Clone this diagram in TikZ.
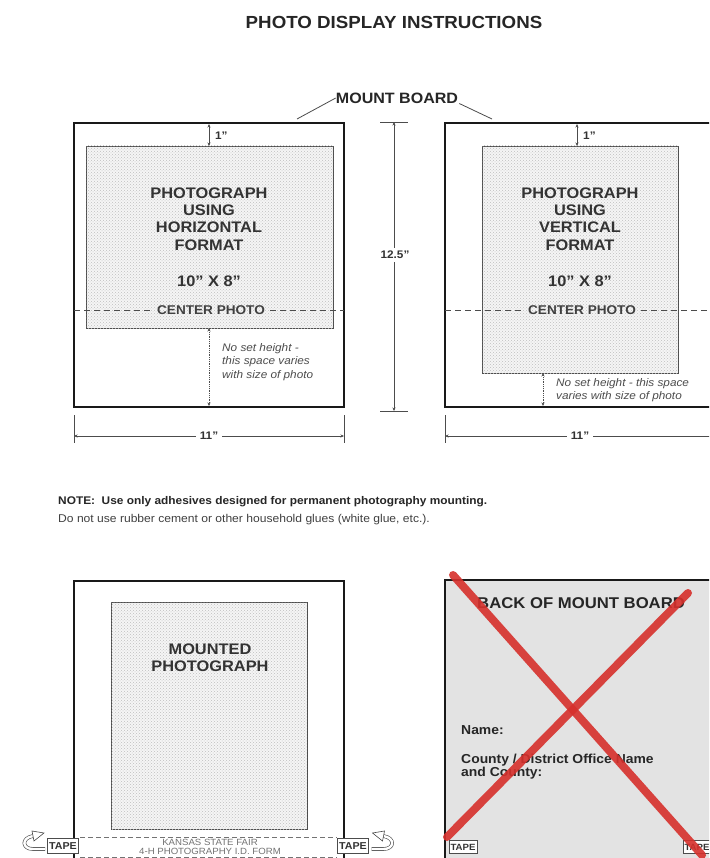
\documentclass[tikz,border=0pt]{standalone}
\usepackage{fontspec}
\setmainfont{Liberation Sans}[FakeStretch=1.07]
\usetikzlibrary{arrows.meta,patterns}

\definecolor{crossred}{RGB}{214,48,44}

\begin{document}
\begin{tikzpicture}[x=1pt,y=-1pt,
  board/.style={line width=2pt,draw=black!90},
  photo/.style={draw=black!70,line width=.8pt,fill=gray!8,postaction={pattern=crosshatch dots,pattern color=gray!50}},
  dim/.style={draw=black!70,line width=.8pt},
  dimarrow/.style={dim,{Stealth[length=3.5pt,width=3pt]}-{Stealth[length=3.5pt,width=3pt]}},
  lbl/.style={font=\bfseries\fontsize{15.3}{17.3}\selectfont,text=black!80,align=center,inner sep=0pt},
  small/.style={font=\bfseries\fontsize{11}{13}\selectfont,text=black!80,inner sep=1pt},
  center/.style={font=\bfseries\fontsize{12.7}{14}\selectfont,text=black!75,inner sep=5pt},
  note/.style={font=\itshape\fontsize{11}{13.5}\selectfont,text=black!70,align=left,inner sep=0pt},
  tapebox/.style={draw=black!70,line width=.7pt,fill=white,font=\bfseries\fontsize{10}{10}\selectfont,text=black!80,inner sep=1.5pt,minimum height=15pt},
  redx/.style={draw=crossred,line width=8pt,line cap=round,opacity=.9}]
\clip (0,0) rectangle (709,858);
\fill[white] (0,0) rectangle (709,858);

% heading
\node[font=\bfseries\fontsize{17.5}{20}\selectfont,text=black!85] (title) at (394,22) {PHOTO DISPLAY INSTRUCTIONS};
\node[font=\bfseries\fontsize{15}{17}\selectfont,text=black!85,inner sep=0pt] (mount) at (397,98) {MOUNT BOARD};
\draw[dim] (mount.west) -- (297,119);
\draw[dim] ([xshift=1pt]mount.south east) -- (492,119);

% horizontal format
\draw[board] (74,123) rectangle (344,407);
\draw[photo] (86,146) rectangle (333,328);
\node[lbl] (hztext) at (209,219) {PHOTOGRAPH\\USING\\HORIZONTAL\\FORMAT};
\node[lbl] (hzsize) at (209,281) {10'' X 8''};
\node[center] (hzcenter) at (211,310) {CENTER PHOTO};
\draw[dim,dashed,dash pattern=on 6pt off 4pt] (74,310) -- (hzcenter.west);
\draw[dim,dashed,dash pattern=on 6pt off 4pt] (hzcenter.east) -- (344,310);
\draw[dimarrow] (209,124) -- (209,146);
\node[small,anchor=west] (hzone) at (214,136) {1''};
\draw[dimarrow,densely dotted] (209,328) -- (209,406);
\node[note,anchor=north west] (hznote) at (222,343) {No set height -\\this space varies\\with size of photo};

% board height
\draw[dim] (380,122) -- (408,122);
\draw[dim] (380,411) -- (408,411);
\draw[dimarrow] (394,122) -- (394,411);
\node[small,fill=white,inner sep=3pt] (height) at (395,255) {12.5''};

% vertical format
\draw[board] (445,123) rectangle (715,407);
\draw[photo] (482,146) rectangle (678,373);
\node[lbl] (vttext) at (580,219) {PHOTOGRAPH\\USING\\VERTICAL\\FORMAT};
\node[lbl] (vtsize) at (580,281) {10'' X 8''};
\node[center] (vtcenter) at (582,310) {CENTER PHOTO};
\draw[dim,dashed,dash pattern=on 6pt off 4pt] (445,310) -- (vtcenter.west);
\draw[dim,dashed,dash pattern=on 6pt off 4pt] (vtcenter.east) -- (715,310);
\draw[dimarrow] (577,124) -- (577,146);
\node[small,anchor=west] (vtone) at (582,136) {1''};
\draw[dimarrow,densely dotted] (543,373) -- (543,406);
\node[note,anchor=north west] (vtnote) at (556,378) {No set height - this space\\varies with size of photo};

% widths
\draw[dim] (74,415) -- (74,443);
\draw[dim] (344,415) -- (344,443);
\draw[dimarrow] (74,436) -- (344,436);
\node[small,fill=white,inner sep=4pt] (hzwidth) at (209,436) {11''};
\draw[dim] (445,415) -- (445,443);
\draw[dimarrow] (445,436) -- (715,436);
\node[small,fill=white,inner sep=4pt] (vtwidth) at (580,436) {11''};

% note
\node[anchor=west,font=\bfseries\fontsize{11.1}{14}\selectfont,text=black!85,inner sep=0pt] (note1) at (58,502) {NOTE:\ \ Use only adhesives designed for permanent photography mounting.};
\node[anchor=west,font=\fontsize{11.3}{14}\selectfont,text=black!75,inner sep=0pt] (note2) at (58,520) {Do not use rubber cement or other household glues (white glue, etc.).};

% mounted photograph
\draw[board] (74,870) -- (74,581) -- (344,581) -- (344,870);
\draw[photo] (111,602) rectangle (307,829);
\node[lbl] (mounted) at (210,658) {MOUNTED\\PHOTOGRAPH};
\draw[dim,draw=black!55,dashed,dash pattern=on 5pt off 3pt] (80,837) -- (337,837);
\draw[dim,draw=black!55,dashed,dash pattern=on 5pt off 3pt] (80,857) -- (337,857);
\node[font=\fontsize{9}{9}\selectfont,text=black!55,align=center,inner sep=0pt] (idform) at (210,847) {KANSAS STATE FAIR\\4-H PHOTOGRAPHY I.D. FORM};
\node[tapebox] (tapeleft) at (63,846) {TAPE};
\node[tapebox] (taperight) at (353,846) {TAPE};
\foreach \sx/\dx in {1/0,-1/416.5}{
  \begin{scope}[xshift=\dx pt,xscale=\sx]
    \draw[draw=black!70,line width=.6pt,double=white,double distance=2.4pt] (45,849) -- (33,849) .. controls (22,849) and (21,838) .. (33,836);
    \draw[draw=black!70,line width=.6pt,fill=white] (32,831) -- (44,833) -- (34,841) -- cycle;
  \end{scope}
}

% back of mount board
\fill[gray!22] (445,580) rectangle (720,870);
\draw[board] (445,870) -- (445,580) -- (720,580);
\node[anchor=west,font=\bfseries\fontsize{15.6}{17}\selectfont,text=black!85,inner sep=0pt] (back) at (477,603) {BACK OF MOUNT BOARD};
\node[anchor=west,font=\bfseries\fontsize{13}{13}\selectfont,text=black!85,inner sep=0pt] (name) at (461,730) {Name:};
\node[anchor=north west,font=\bfseries\fontsize{13}{12.5}\selectfont,text=black!85,align=left,inner sep=0pt] (county) at (461,754) {County / District Office Name\\and County:};
\node[tapebox,minimum height=13pt,font=\bfseries\fontsize{9}{9}\selectfont] (tapeback1) at (463,847) {TAPE};
\node[tapebox,minimum height=13pt,font=\bfseries\fontsize{9}{9}\selectfont] (tapeback2) at (697,847) {TAPE};
\draw[redx] (453,575) -- (702,855);
\draw[redx] (688,593) -- (447,837);
\end{tikzpicture}
\end{document}
